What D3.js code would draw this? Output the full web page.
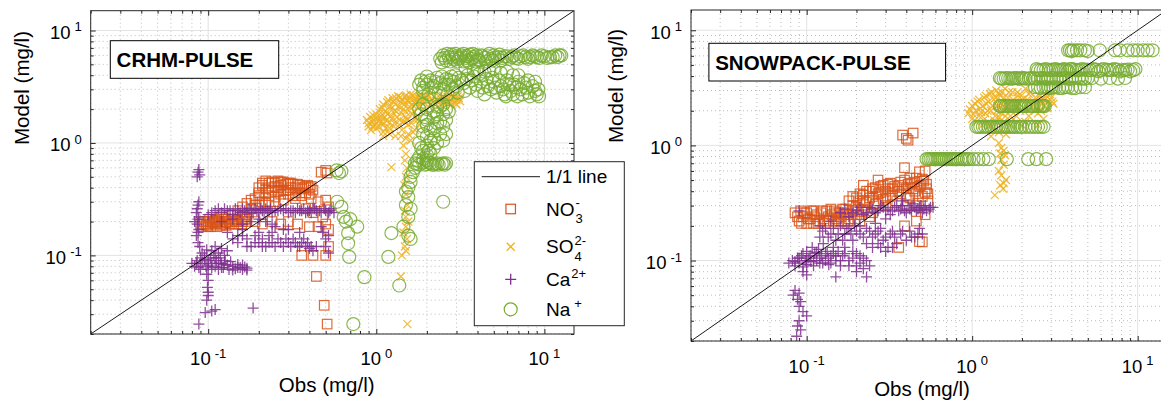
<!DOCTYPE html>
<html lang="en">
<head>
<meta charset="utf-8">
<title>Obs vs Model - CRHM-PULSE / SNOWPACK-PULSE</title>
<script src="https://cdn.jsdelivr.net/npm/d3@7"></script>
<style>
    body { margin: 0; background: #fff; }
    svg text { font-family: "Liberation Sans", Arial, sans-serif; fill: #000; }
</style>
</head>
<body>
<svg id="chart" width="1161" height="408"></svg>
<script>

    // axis limits and labels
    var axisLimits = [0.02, 15];
    var majorTicks = [0.1, 1, 10];
    var majorExps = ["-1", "0", "1"];
    var panelTitles = ["CRHM-PULSE", "SNOWPACK-PULSE"];
    var xLabel = "Obs (mg/l)";
    var yLabel = "Model (mg/l)";

    // legend names: base, superscript, subscript
    var speciesNames = ["NO", "SO", "Ca", "Na"];
    var speciesSup = ["-", "2-", "2+", "+"];
    var speciesSub = ["3", "4", "", ""];
    var speciesColors = ["#D95319", "#EDB120", "#7E2F8E", "#77AC30"];
    var speciesMarkers = ["square", "x", "plus", "circle"];

    // [obs, model] pairs
    var crhmNO3 = [[0.09,0.19],[0.092,0.18],[0.095,0.2],[0.098,0.185],[0.1,0.19],[0.1,0.2],[0.103,0.18],[0.106,0.195],
        [0.11,0.19],[0.11,0.205],[0.113,0.18],[0.117,0.2],[0.12,0.19],[0.125,0.21],[0.128,0.185],[0.13,0.2],[0.135,0.19],
        [0.14,0.21],[0.145,0.2],[0.15,0.19],[0.155,0.22],[0.16,0.2],[0.165,0.21],[0.17,0.23],[0.12,0.22],[0.14,0.23],
        [0.17,0.21],[0.19,0.2],[0.21,0.19],[0.24,0.2],[0.27,0.19],[0.3,0.2],[0.15,0.25],[0.16,0.27],[0.17,0.29],
        [0.18,0.31],[0.19,0.28],[0.2,0.34],[0.2,0.4],[0.21,0.44],[0.22,0.36],[0.22,0.46],[0.23,0.4],[0.24,0.45],
        [0.25,0.41],[0.26,0.37],[0.26,0.46],[0.27,0.42],[0.28,0.45],[0.29,0.38],[0.3,0.44],[0.31,0.4],[0.32,0.43],
        [0.33,0.36],[0.35,0.42],[0.36,0.39],[0.38,0.41],[0.4,0.4],[0.42,0.38],[0.41,0.32],[0.23,0.3],[0.25,0.33],
        [0.28,0.31],[0.3,0.35],[0.33,0.32],[0.36,0.34],[0.47,0.55],[0.5,0.57],[0.51,0.54],[0.38,0.26],[0.42,0.24],
        [0.45,0.3],[0.5,0.31],[0.52,0.27],[0.48,0.22],[0.5,0.19],[0.52,0.17],[0.45,0.18],[0.4,0.18],[0.34,0.19],
        [0.36,0.1],[0.42,0.1],[0.5,0.1],[0.52,0.12],[0.44,0.065],[0.49,0.036],[0.51,0.0245],
        [0.093,0.2],[0.097,0.19],[0.1,0.18],[0.102,0.21],[0.107,0.2],[0.112,0.195],[0.115,0.21],[0.118,0.185],
        [0.122,0.2],[0.127,0.195],[0.132,0.21],[0.138,0.2],[0.142,0.19],[0.148,0.21],[0.152,0.2],[0.158,0.19],
        [0.162,0.22],[0.168,0.2],[0.19,0.32],[0.2,0.36],[0.21,0.3],[0.21,0.42],[0.22,0.39],[0.23,0.34],[0.23,0.44],
        [0.24,0.38],[0.25,0.44],[0.25,0.3],[0.26,0.4],[0.27,0.35],[0.27,0.45],[0.28,0.38],[0.29,0.43],[0.3,0.38],
        [0.31,0.44],[0.32,0.34],[0.33,0.4],[0.34,0.43],[0.35,0.36],[0.37,0.4],[0.38,0.36],[0.39,0.42],[0.4,0.35],
        [0.41,0.41],[0.2,0.28],[0.22,0.29],[0.18,0.26]];

    var crhmSO4 = [[0.9,1.5],[0.92,1.7],[0.95,1.4],[0.97,1.6],[1.0,1.8],[1.0,1.35],[1.03,1.55],[1.05,2.0],[1.07,1.7],
        [1.1,1.45],[1.1,2.2],[1.13,1.9],[1.15,1.6],[1.18,2.4],[1.2,1.35],[1.2,2.1],[1.23,1.75],[1.25,2.5],[1.28,1.5],
        [1.3,2.2],[1.32,1.9],[1.35,2.6],[1.38,1.6],[1.4,2.3],[1.42,1.3],[1.45,2.0],[1.48,2.6],[1.5,1.7],[1.52,2.4],
        [1.55,1.45],[1.58,2.1],[1.6,2.7],[1.63,1.8],[1.65,1.25],[1.7,2.5],[1.72,2.2],[1.75,1.6],[1.8,2.6],[1.85,2.3],
        [1.9,2.0],[1.95,2.6],[2.0,2.4],[2.1,2.2],[2.2,2.6],[2.3,2.4],[2.4,2.2],[2.5,2.6],[2.6,2.3],[2.7,2.5],[2.8,2.2],
        [2.9,2.6],[3.0,2.4],[3.1,2.5],[3.0,2.2],[1.3,1.15],[1.5,1.1],[1.1,1.25],[0.93,1.3],[1.6,1.05],[1.45,0.95],
        [1.5,0.8],[1.48,0.7],[1.52,0.6],[1.5,0.5],[1.47,0.42],[1.5,0.35],[1.53,0.28],[1.48,0.25],[1.5,0.22],[1.55,0.2],
        [1.5,0.18],[1.45,0.16],[1.52,0.14],[1.48,0.12],[1.5,0.11],[1.42,0.1],[1.23,0.61],[1.4,0.065],[1.53,0.0245],
        [0.88,1.6],[0.9,1.4],[0.94,1.55],[0.96,1.75],[0.98,1.45],[1.02,1.65],[1.04,1.4],[1.06,1.85],[1.08,1.55],
        [1.09,2.05],[1.12,1.7],[1.14,1.35],[1.16,2.3],[1.17,1.8],[1.19,1.5],[1.21,2.0],[1.24,1.65],[1.26,2.35],
        [1.27,1.4],[1.29,1.95],[1.31,2.5],[1.33,1.7],[1.36,2.1],[1.37,1.45],[1.39,2.55],[1.41,1.85],[1.43,2.4],
        [1.46,1.55],[1.47,2.2],[1.49,1.9],[1.51,2.65],[1.53,1.6],[1.56,2.3],[1.57,1.95],[1.59,2.5],[1.62,1.5],
        [1.64,2.2],[1.66,2.65],[1.68,1.9],[1.71,2.35],[1.73,1.7],[1.76,2.55],[1.78,2.1],[1.82,2.45],[1.87,2.6],
        [1.92,2.3],[1.97,2.5],[2.05,2.6],[2.15,2.4],[2.25,2.2],[2.35,2.6],[2.45,2.4],[2.55,2.2],[2.65,2.55],
        [2.75,2.35],[2.85,2.45],[2.95,2.25],[3.05,2.6],[3.15,2.35],[1.1,1.15],[1.2,1.2],[1.4,1.15],[1.55,1.2],
        [1.7,1.3],[1.8,1.45]];

    var crhmCa = [[0.088,0.58],[0.087,0.55],[0.089,0.52],[0.086,0.5],[0.088,0.3],[0.087,0.28],[0.086,0.26],[0.085,0.24],
        [0.088,0.22],[0.087,0.21],[0.083,0.2],[0.086,0.19],[0.088,0.17],[0.087,0.16],[0.085,0.15],[0.087,0.13],[0.089,0.12],
        [0.08,0.085],[0.083,0.08],[0.086,0.09],[0.088,0.078],[0.09,0.095],[0.092,0.085],[0.095,0.1],[0.097,0.08],[0.1,0.09],
        [0.1,0.075],[0.103,0.095],[0.105,0.085],[0.108,0.1],[0.11,0.08],[0.112,0.09],[0.115,0.075],[0.118,0.095],[0.12,0.085],
        [0.123,0.078],[0.126,0.09],[0.13,0.082],[0.133,0.075],[0.136,0.088],[0.14,0.08],[0.145,0.076],[0.15,0.083],
        [0.155,0.078],[0.16,0.075],[0.165,0.079],[0.17,0.074],[0.105,0.11],[0.11,0.12],[0.115,0.105],[0.12,0.115],
        [0.125,0.1],[0.13,0.11],[0.098,0.068],[0.1,0.06],[0.099,0.052],[0.1,0.047],[0.1,0.044],[0.098,0.04],[0.105,0.032],
        [0.096,0.031],[0.11,0.033],[0.088,0.0245],[0.185,0.034],[0.1,0.23],[0.11,0.25],[0.12,0.24],[0.125,0.26],[0.13,0.25],
        [0.14,0.23],[0.15,0.25],[0.16,0.26],[0.17,0.24],[0.18,0.25],[0.19,0.26],[0.2,0.24],[0.21,0.25],[0.22,0.26],
        [0.23,0.25],[0.24,0.24],[0.25,0.25],[0.27,0.26],[0.28,0.25],[0.3,0.24],[0.32,0.25],[0.34,0.26],[0.36,0.25],
        [0.38,0.24],[0.4,0.25],[0.42,0.26],[0.44,0.25],[0.47,0.24],[0.5,0.25],[0.53,0.25],[0.56,0.24],[0.12,0.2],
        [0.14,0.21],[0.16,0.19],[0.18,0.2],[0.2,0.21],[0.22,0.2],[0.24,0.19],[0.13,0.16],[0.14,0.14],[0.15,0.13],
        [0.16,0.15],[0.17,0.14],[0.18,0.12],[0.19,0.15],[0.2,0.13],[0.21,0.14],[0.22,0.12],[0.23,0.15],[0.24,0.13],
        [0.26,0.14],[0.28,0.12],[0.3,0.13],[0.32,0.14],[0.34,0.12],[0.36,0.13],[0.38,0.12],[0.4,0.115],[0.42,0.11],
        [0.44,0.12],[0.3,0.17],[0.25,0.18],[0.35,0.16],[0.48,0.16],[0.5,0.14],[0.52,0.15],[0.5,0.12],[0.52,0.105],[0.47,0.18],
        [0.105,0.24],[0.115,0.26],[0.135,0.25],[0.145,0.26],[0.155,0.24],[0.165,0.25],[0.175,0.26],[0.185,0.24],
        [0.195,0.25],[0.205,0.26],[0.215,0.24],[0.225,0.25],[0.235,0.26],[0.26,0.25],[0.29,0.26],[0.31,0.25],
        [0.33,0.24],[0.35,0.25],[0.37,0.26],[0.39,0.25],[0.41,0.24],[0.43,0.26],[0.46,0.25],[0.49,0.26],[0.52,0.24],
        [0.54,0.26],[0.15,0.15],[0.17,0.12],[0.19,0.13],[0.21,0.12],[0.23,0.13],[0.25,0.12],[0.27,0.13],[0.29,0.14],
        [0.31,0.12],[0.33,0.13],[0.35,0.12],[0.37,0.14],[0.39,0.13],[0.41,0.12],[0.16,0.17],[0.2,0.16],[0.24,0.16],
        [0.28,0.17],[0.085,0.085],[0.09,0.075],[0.095,0.092],[0.1,0.082],[0.105,0.078],[0.11,0.095],[0.115,0.085],
        [0.12,0.078],[0.125,0.083],[0.14,0.074],[0.15,0.078],[0.16,0.082],[0.17,0.077],[0.092,0.105],[0.098,0.112]];

    var crhmNa = [[2.4,5.6],[2.5,6.0],[2.6,5.4],[2.7,5.8],[2.8,6.1],[2.9,5.5],[3.0,5.9],[3.1,5.6],[3.2,6.0],[3.4,5.7],
        [3.5,5.4],[3.6,6.1],[3.8,5.8],[4.0,5.5],[4.2,6.0],[4.4,5.7],[4.6,5.9],[4.8,5.6],[5.0,6.0],[5.3,5.8],[5.6,5.7],
        [6.0,5.9],[6.4,5.8],[6.8,5.7],[7.2,5.9],[7.7,5.8],[8.2,5.8],[8.7,5.9],[9.3,5.7],[10,5.9],[10.8,5.8],[11.6,6.0],
        [12.3,6.0],[1.8,3.3],[1.9,3.1],[1.95,3.5],[2.0,3.3],[2.1,3.6],[2.2,3.2],[2.3,3.8],[2.4,3.4],[2.5,3.0],[2.6,3.7],
        [2.7,3.3],[2.8,3.9],[2.9,3.5],[3.0,3.2],[3.1,3.8],[3.3,3.4],[3.5,4.0],[3.7,3.6],[3.9,3.3],[4.1,4.1],[4.3,3.1],
        [4.5,3.7],[4.8,3.0],[5.0,3.5],[5.2,2.8],[5.5,3.2],[5.8,2.7],[6.0,3.6],[6.3,2.9],[6.6,3.3],[6.9,2.6],[7.2,3.0],
        [7.6,3.4],[8.0,2.8],[8.5,3.2],[9.0,2.7],[9.2,3.0],[4.0,4.5],[4.7,4.4],[5.5,4.2],[6.5,4.0],[3.4,4.6],[1.9,2.2],
        [2.0,2.0],[2.2,1.9],[2.4,2.1],[2.6,2.0],[1.85,1.8],[2.0,1.6],[2.2,1.7],[2.5,1.8],[2.6,1.6],[1.9,1.4],[2.1,1.3],
        [2.3,1.5],[2.5,1.4],[2.0,1.15],[2.2,1.1],[2.4,1.2],[1.8,1.0],[2.0,0.95],[2.2,0.9],[1.9,0.85],[2.1,0.8],[1.8,0.75],
        [2.0,0.7],[1.7,0.66],[1.8,0.64],[1.9,0.67],[2.0,0.65],[2.1,0.66],[2.2,0.64],[2.3,0.66],[2.45,0.65],[2.6,0.66],
        [1.7,0.6],[1.65,0.55],[1.6,0.5],[1.6,0.45],[1.55,0.4],[1.5,0.37],[1.55,0.33],[1.5,0.28],[1.6,0.26],[1.55,0.22],
        [1.45,0.18],[1.55,0.15],[1.6,0.14],[1.23,0.158],[1.18,0.097],[1.37,0.054],[2.5,0.3],[0.58,0.57],[0.6,0.54],
        [0.62,0.56],[0.585,0.3],[0.62,0.27],[0.64,0.22],[0.7,0.21],[0.77,0.18],[0.66,0.2],[0.68,0.158],[0.68,0.128],
        [0.69,0.097],[0.85,0.064],[0.73,0.0245],
        [2.45,5.2],[2.55,5.7],[2.65,6.2],[2.75,5.3],[2.85,5.75],[2.95,6.2],[3.05,5.3],[3.15,5.75],[3.3,5.3],[3.3,6.2],
        [3.45,5.95],[3.55,5.2],[3.7,5.6],[3.75,6.2],[3.9,5.3],[3.95,6.0],[4.1,5.4],[4.3,5.9],[4.5,5.3],[4.7,6.2],
        [4.9,5.4],[5.1,5.7],[5.4,6.1],[5.5,5.4],[5.8,5.9],[6.2,5.6],[6.6,6.0],[7.0,5.6],[7.5,6.0],[8.0,5.6],[8.5,6.0],
        [9.0,5.8],[9.6,6.0],[10.4,5.7],[11.2,5.8],[12.0,5.8],[12.6,6.0],[1.85,3.6],[1.9,2.9],[2.0,3.9],[2.05,2.7],
        [2.15,3.1],[2.25,3.5],[2.35,2.8],[2.45,3.9],[2.55,3.3],[2.65,2.7],[2.75,3.6],[2.85,3.0],[2.95,4.0],[3.05,2.8],
        [3.2,3.6],[3.35,2.9],[3.45,3.7],[3.6,3.1],[3.8,3.9],[4.0,2.9],[4.2,3.5],[4.4,2.7],[4.6,3.2],[4.9,3.8],[5.1,3.1],
        [5.4,3.6],[5.7,3.0],[5.9,2.6],[6.2,3.3],[6.5,2.7],[6.8,3.1],[7.0,3.5],[7.4,2.7],[7.8,3.1],[8.2,2.6],[8.8,2.9],
        [9.3,2.6],[3.8,4.4],[4.4,4.3],[5.0,4.6],[6.0,4.3],[7.0,4.0],[8.0,3.6],[8.8,3.5],[1.8,2.0],[2.3,2.1],[2.5,2.2],
        [1.95,1.7],[2.3,1.8],[2.4,1.55],[2.0,1.45],[2.2,1.35],[1.9,1.2],[2.1,1.05],[2.3,1.0],[2.5,1.05],[1.85,0.9],
        [2.05,0.85],[2.0,0.78],[1.75,0.7],[1.9,0.72],[2.6,1.2],[2.7,1.9],[1.75,0.65],[1.95,0.64],[2.05,0.67],
        [2.15,0.64],[2.25,0.65],[2.35,0.64],[2.5,0.66],[2.55,0.64]];

    var snowNO3 = [[0.085,0.26],[0.09,0.22],[0.092,0.27],[0.095,0.24],[0.1,0.21],[0.1,0.26],[0.105,0.23],[0.11,0.27],
        [0.11,0.21],[0.115,0.25],[0.12,0.22],[0.125,0.27],[0.13,0.21],[0.135,0.24],[0.14,0.28],[0.145,0.22],[0.15,0.26],
        [0.155,0.21],[0.16,0.24],[0.165,0.28],[0.17,0.22],[0.175,0.26],[0.18,0.23],[0.19,0.27],[0.2,0.25],[0.21,0.22],
        [0.22,0.28],[0.24,0.24],[0.18,0.33],[0.19,0.36],[0.2,0.3],[0.21,0.38],[0.22,0.33],[0.23,0.4],[0.24,0.35],
        [0.25,0.42],[0.26,0.31],[0.27,0.38],[0.28,0.44],[0.29,0.34],[0.3,0.4],[0.31,0.46],[0.32,0.36],[0.33,0.42],
        [0.35,0.33],[0.36,0.45],[0.37,0.38],[0.39,0.5],[0.4,0.42],[0.42,0.35],[0.43,0.47],[0.45,0.4],[0.46,0.52],
        [0.48,0.44],[0.5,0.36],[0.51,0.49],[0.53,0.42],[0.54,0.33],[0.22,0.45],[0.27,0.5],[0.3,0.3],[0.4,0.3],[0.46,0.3],
        [0.38,1.23],[0.41,1.11],[0.44,1.28],[0.4,1.15],[0.39,0.64],[0.48,0.59],[0.52,0.6],[0.46,0.22],[0.48,0.146],
        [0.36,0.13],[0.39,0.2],[0.5,0.145],[0.52,0.25],
        [0.088,0.24],[0.093,0.21],[0.097,0.26],[0.102,0.23],[0.107,0.27],[0.112,0.24],[0.117,0.21],[0.122,0.26],
        [0.127,0.23],[0.132,0.27],[0.137,0.22],[0.142,0.25],[0.147,0.27],[0.152,0.23],[0.157,0.26],[0.162,0.22],
        [0.168,0.25],[0.172,0.28],[0.178,0.22],[0.185,0.25],[0.195,0.23],[0.205,0.28],[0.215,0.25],[0.23,0.27],
        [0.25,0.26],[0.19,0.3],[0.2,0.35],[0.21,0.33],[0.22,0.37],[0.23,0.32],[0.24,0.4],[0.25,0.36],[0.26,0.43],
        [0.27,0.33],[0.28,0.39],[0.29,0.45],[0.3,0.35],[0.31,0.42],[0.32,0.47],[0.33,0.37],[0.34,0.44],[0.36,0.4],
        [0.37,0.48],[0.38,0.43],[0.4,0.37],[0.41,0.46],[0.42,0.52],[0.44,0.42],[0.45,0.48],[0.47,0.38],[0.49,0.45],
        [0.5,0.51],[0.52,0.39],[0.53,0.46],[0.54,0.38]];

    var snowSO4 = [[0.95,1.9],[1.0,2.2],[1.0,1.7],[1.05,2.0],[1.08,2.4],[1.1,1.8],[1.12,2.1],[1.15,1.5],[1.18,2.6],
        [1.2,1.9],[1.22,2.3],[1.25,1.6],[1.28,2.8],[1.3,2.0],[1.32,1.4],[1.35,2.5],[1.38,1.8],[1.4,3.0],[1.42,2.2],
        [1.45,1.3],[1.48,2.7],[1.5,1.9],[1.52,2.4],[1.55,1.6],[1.58,3.1],[1.6,2.1],[1.65,2.6],[1.7,1.5],[1.75,2.9],
        [1.8,2.3],[1.85,1.8],[1.9,2.7],[1.95,2.0],[2.0,2.5],[2.1,1.6],[2.2,2.8],[2.3,2.2],[2.4,2.6],[2.5,1.9],[2.6,2.5],
        [2.7,2.2],[2.8,2.7],[2.9,2.4],[3.0,2.6],[3.1,2.3],[2.1,3.1],[2.4,2.0],[1.3,1.2],[1.6,1.25],[2.0,1.5],[2.5,1.5],
        [2.7,1.7],[1.45,1.05],[1.5,0.95],[1.55,0.9],[1.48,0.85],[1.58,0.82],[1.5,0.75],[1.55,0.68],[1.45,0.6],[1.5,0.55],
        [1.6,0.5],[1.55,0.47],[1.48,0.45],[1.54,0.42],[1.37,0.37],
        [0.97,2.05],[1.02,1.85],[1.04,2.3],[1.06,1.6],[1.1,2.5],[1.13,1.95],[1.16,2.2],[1.19,1.7],[1.21,2.7],
        [1.24,2.0],[1.26,2.4],[1.29,1.5],[1.31,2.9],[1.33,2.2],[1.36,1.65],[1.39,2.6],[1.41,2.0],[1.44,2.85],
        [1.46,1.75],[1.49,2.3],[1.51,2.9],[1.54,2.05],[1.56,2.6],[1.59,1.8],[1.62,2.35],[1.67,2.9],[1.72,2.0],
        [1.77,2.5],[1.83,2.1],[1.88,2.9],[1.93,2.3],[1.98,2.7],[2.05,2.1],[2.15,2.5],[2.25,2.9],[2.35,2.4],[2.45,2.1],
        [2.55,2.7],[2.65,2.3],[2.75,2.5],[2.85,2.1],[2.95,2.8],[3.05,2.4],[1.4,1.6],[1.7,1.8],[2.2,1.8],[2.6,2.0]];

    var snowCa = [[0.09,0.27],[0.085,0.055],[0.09,0.052],[0.083,0.05],[0.088,0.046],[0.092,0.044],[0.09,0.04],[0.095,0.036],
        [0.1,0.033],[0.09,0.03],[0.088,0.027],[0.092,0.025],[0.087,0.022],[0.078,0.095],[0.082,0.1],[0.085,0.09],
        [0.088,0.105],[0.09,0.095],[0.093,0.11],[0.095,0.088],[0.098,0.1],[0.1,0.12],[0.1,0.092],[0.103,0.105],
        [0.106,0.098],[0.108,0.13],[0.11,0.09],[0.112,0.115],[0.115,0.1],[0.118,0.125],[0.12,0.095],[0.123,0.11],
        [0.126,0.14],[0.13,0.1],[0.133,0.12],[0.136,0.092],[0.14,0.11],[0.145,0.13],[0.15,0.1],[0.155,0.12],[0.16,0.09],
        [0.165,0.11],[0.17,0.13],[0.18,0.1],[0.19,0.12],[0.2,0.09],[0.21,0.11],[0.22,0.085],[0.23,0.1],[0.24,0.09],
        [0.095,0.08],[0.1,0.075],[0.15,0.072],[0.2,0.08],[0.23,0.072],[0.12,0.16],[0.13,0.19],[0.14,0.17],[0.15,0.15],
        [0.16,0.2],[0.17,0.17],[0.18,0.19],[0.19,0.15],[0.2,0.18],[0.21,0.2],[0.22,0.16],[0.23,0.14],[0.24,0.18],
        [0.25,0.13],[0.26,0.17],[0.27,0.14],[0.28,0.19],[0.3,0.16],[0.31,0.13],[0.33,0.18],[0.35,0.14],[0.37,0.17],
        [0.4,0.15],[0.42,0.18],[0.45,0.16],[0.48,0.19],[0.5,0.17],[0.28,0.13],[0.3,0.12],[0.33,0.13],[0.16,0.26],
        [0.18,0.24],[0.2,0.27],[0.22,0.25],[0.24,0.29],[0.26,0.26],[0.28,0.3],[0.3,0.27],[0.32,0.25],[0.34,0.29],
        [0.36,0.27],[0.38,0.3],[0.4,0.26],[0.42,0.28],[0.44,0.31],[0.46,0.27],[0.48,0.29],[0.5,0.26],[0.52,0.3],
        [0.55,0.28],[0.58,0.29],[0.38,0.33],[0.3,0.23],[0.26,0.21],[0.14,0.22],[0.12,0.2],
        [0.085,0.098],[0.09,0.105],[0.095,0.115],[0.1,0.1],[0.105,0.11],[0.11,0.1],[0.115,0.118],[0.12,0.105],
        [0.125,0.095],[0.13,0.115],[0.135,0.105],[0.14,0.095],[0.145,0.115],[0.15,0.11],[0.16,0.1],[0.17,0.115],
        [0.18,0.09],[0.19,0.105],[0.2,0.115],[0.21,0.095],[0.22,0.105],[0.125,0.18],[0.135,0.16],[0.145,0.19],
        [0.155,0.17],[0.165,0.15],[0.175,0.19],[0.185,0.17],[0.195,0.2],[0.21,0.17],[0.23,0.19],[0.25,0.16],
        [0.27,0.18],[0.29,0.15],[0.32,0.17],[0.34,0.16],[0.38,0.18],[0.43,0.16],[0.47,0.17],[0.17,0.28],[0.19,0.26],
        [0.21,0.29],[0.23,0.26],[0.25,0.28],[0.27,0.27],[0.29,0.29],[0.31,0.28],[0.33,0.27],[0.35,0.3],[0.37,0.28],
        [0.39,0.27],[0.41,0.3],[0.43,0.27],[0.45,0.29],[0.47,0.28],[0.49,0.3],[0.51,0.28],[0.53,0.27],[0.56,0.29]];

    var snowNa = [[3.8,6.7],[3.9,6.7],[4.0,6.6],[4.1,6.7],[4.3,6.7],[4.5,6.7],[4.8,6.7],[5.0,6.6],[5.9,6.7],[7.3,6.7],
        [7.8,6.7],[8.7,6.7],[9.4,6.7],[10,6.7],[10.8,6.7],[11.5,6.7],[12.3,6.7],[2.45,4.6],[2.6,4.5],[2.8,4.6],[3.0,4.5],
        [3.2,4.6],[3.4,4.5],[3.6,4.6],[3.8,4.4],[4.0,4.6],[4.3,4.5],[4.6,4.6],[5.0,4.5],[5.4,4.6],[5.8,4.4],[6.2,4.6],
        [6.7,4.5],[7.2,4.6],[7.8,4.4],[8.4,4.5],[9.0,4.4],[9.7,4.6],[1.47,3.85],[1.55,3.8],[1.65,3.85],[1.75,3.8],
        [1.85,3.85],[1.95,3.8],[2.05,3.85],[2.2,3.8],[2.35,3.85],[2.5,3.8],[2.7,3.85],[2.9,3.8],[3.1,3.85],[3.4,3.8],
        [3.7,3.85],[4.0,3.8],[4.4,3.85],[4.8,3.8],[5.3,3.85],[6.0,3.8],[6.8,3.85],[7.6,3.8],[8.4,3.85],[2.4,3.2],
        [2.6,3.15],[2.8,3.2],[3.0,3.15],[3.2,3.2],[3.5,3.15],[3.8,3.2],[4.2,3.15],[4.8,3.2],[1.47,2.2],[1.55,2.2],
        [1.65,2.2],[1.75,2.2],[1.85,2.2],[1.95,2.2],[2.05,2.2],[2.2,2.2],[2.35,2.2],[2.5,2.2],[2.65,2.2],[2.75,2.2],
        [1.06,1.45],[1.12,1.45],[1.2,1.45],[1.3,1.45],[1.4,1.45],[1.5,1.45],[1.6,1.45],[1.7,1.45],[1.8,1.45],[1.95,1.45],
        [2.1,1.45],[2.3,1.45],[2.5,1.45],[2.7,1.45],[0.53,0.76],[0.56,0.76],[0.59,0.76],[0.62,0.76],[0.65,0.76],
        [0.68,0.76],[0.72,0.76],[0.76,0.76],[0.8,0.76],[0.85,0.76],[0.9,0.76],[0.96,0.76],[1.02,0.76],[1.09,0.76],
        [1.17,0.76],[1.26,0.76],[1.62,0.76],[2.18,0.76],[2.45,0.76],[2.8,0.76],
        [2.5,4.5],[2.7,4.55],[2.9,4.5],[3.1,4.55],[3.3,4.5],[3.5,4.55],[3.7,4.5],[3.9,4.6],[4.15,4.55],[4.45,4.5],
        [4.8,4.55],[5.2,4.5],[5.6,4.55],[6.0,4.5],[6.5,4.55],[7.0,4.5],[7.5,4.55],[8.1,4.5],[8.7,4.55],[9.4,4.5],
        [1.5,3.8],[1.6,3.85],[1.7,3.8],[1.8,3.85],[1.9,3.8],[2.0,3.85],[2.1,3.8],[2.25,3.85],[2.4,3.8],[2.6,3.85],
        [2.8,3.8],[3.0,3.85],[3.25,3.8],[3.55,3.85],[3.85,3.8],[4.2,3.85],[4.6,3.8],[5.0,3.85],[2.5,3.2],[2.7,3.2],
        [2.9,3.15],[3.1,3.2],[3.35,3.15],[3.65,3.2],[4.0,3.15],[4.5,3.2],[1.5,2.2],[1.6,2.2],[1.7,2.2],[1.8,2.2],
        [1.9,2.2],[2.0,2.2],[2.1,2.2],[2.3,2.2],[2.45,2.2],[2.6,2.2],[2.7,2.2],[1.09,1.45],[1.16,1.45],[1.25,1.45],
        [1.35,1.45],[1.45,1.45],[1.55,1.45],[1.65,1.45],[1.75,1.45],[1.87,1.45],[2.0,1.45],[2.2,1.45],[2.4,1.45],
        [2.6,1.45],[0.545,0.76],[0.575,0.76],[0.605,0.76],[0.635,0.76],[0.665,0.76],[0.7,0.76],[0.74,0.76],
        [0.78,0.76],[0.82,0.76],[0.875,0.76],[0.93,0.76]];

    // panel layout (pixels)
    var panels = [
        {title: panelTitles[0], left: 90.7, top: 10.7, width: 483.3, height: 323.3,
         box: [19.6, 30, 168.4, 37.6], xlab: [236, 392], ylab: [29, 88],
         series: [crhmNO3, crhmSO4, crhmCa, crhmNa]},
        {title: panelTitles[1], left: 691, top: 10, width: 475.8, height: 331,
         box: [17.9, 33.3, 236.7, 37.7], xlab: [231, 396], ylab: [623, 86],
         series: [snowNO3, snowSO4, snowCa, snowNa]}
    ];

    var svg = d3.select("#chart");
    var axisColor = "#262626";

    function markerPath(type) {
        if (type == "x") return "M-4,-4L4,4M-4,4L4,-4";
        if (type == "plus") return "M-5.5,0H5.5M0,-5.5V5.5";
        return null;
    }

    function addMarker(sel, type, color) {
        if (type == "square") {
            sel.append("rect").attr("x", -4.75).attr("y", -4.75).attr("width", 9.5).attr("height", 9.5)
                .attr("fill", "none").attr("stroke", color).attr("stroke-width", 1.2);
        } else if (type == "circle") {
            sel.append("circle").attr("r", 6.5)
                .attr("fill", "none").attr("stroke", color).attr("stroke-width", 1.2);
        } else {
            sel.append("path").attr("d", markerPath(type))
                .attr("fill", "none").attr("stroke", color).attr("stroke-width", 1.3);
        }
    }

    function powLabel(sel, exp) {
        sel.append("tspan").text("10");
        sel.append("tspan").attr("dx", 4).attr("dy", -7.5).attr("font-size", 13).text(exp);
    }

    panels.forEach(function (p, pi) {

        var x = d3.scaleLog().domain(axisLimits).range([0, p.width]);
        var y = d3.scaleLog().domain(axisLimits).range([p.height, 0]);

        var g = svg.append("g").attr("transform", "translate(" + p.left + "," + p.top + ")");

        g.append("clipPath").attr("id", "clip" + pi)
            .append("rect").attr("width", p.width).attr("height", p.height);

        var allTicks = x.ticks();
        var minorTicks = allTicks.filter(function (t) { return majorTicks.indexOf(t) < 0; });

        // grid
        var grid = g.append("g");
        grid.selectAll(".vminor").data(minorTicks).enter().append("line")
            .attr("x1", function (d) { return x(d); }).attr("x2", function (d) { return x(d); })
            .attr("y1", 0).attr("y2", p.height)
            .attr("stroke", "#bdbdbd").attr("stroke-dasharray", "1,3");
        grid.selectAll(".hminor").data(minorTicks).enter().append("line")
            .attr("y1", function (d) { return y(d); }).attr("y2", function (d) { return y(d); })
            .attr("x1", 0).attr("x2", p.width)
            .attr("stroke", "#bdbdbd").attr("stroke-dasharray", "1,3");
        grid.selectAll(".vmajor").data(majorTicks).enter().append("line")
            .attr("x1", function (d) { return x(d); }).attr("x2", function (d) { return x(d); })
            .attr("y1", 0).attr("y2", p.height)
            .attr("stroke", "#e3e3e3");
        grid.selectAll(".hmajor").data(majorTicks).enter().append("line")
            .attr("y1", function (d) { return y(d); }).attr("y2", function (d) { return y(d); })
            .attr("x1", 0).attr("x2", p.width)
            .attr("stroke", "#e3e3e3");

        // points
        var plot = g.append("g").attr("clip-path", "url(#clip" + pi + ")");
        p.series.forEach(function (data, si) {
            plot.append("g").selectAll("g").data(data).enter().append("g")
                .attr("transform", function (d) { return "translate(" + x(d[0]) + "," + y(d[1]) + ")"; })
                .attr("stroke-opacity", 0.85)
                .each(function () { addMarker(d3.select(this), speciesMarkers[si], speciesColors[si]); });
        });

        // 1/1 line
        plot.append("line")
            .attr("x1", x(axisLimits[0])).attr("y1", y(axisLimits[0]))
            .attr("x2", x(axisLimits[1])).attr("y2", y(axisLimits[1]))
            .attr("stroke", "#000").attr("stroke-width", 0.9);

        // ticks on all four sides, pointing inward
        function tickAxis(axis, transform) {
            var a = g.append("g").attr("transform", transform).attr("color", axisColor).call(axis);
            a.select(".domain").remove();
        }
        tickAxis(d3.axisBottom(x).tickValues(majorTicks).tickSize(-5).tickFormat(""), "translate(0," + p.height + ")");
        tickAxis(d3.axisBottom(x).tickValues(minorTicks).tickSize(-3).tickFormat(""), "translate(0," + p.height + ")");
        tickAxis(d3.axisTop(x).tickValues(majorTicks).tickSize(-5).tickFormat(""), "translate(0,0)");
        tickAxis(d3.axisTop(x).tickValues(minorTicks).tickSize(-3).tickFormat(""), "translate(0,0)");
        tickAxis(d3.axisLeft(y).tickValues(majorTicks).tickSize(-5).tickFormat(""), "translate(0,0)");
        tickAxis(d3.axisLeft(y).tickValues(minorTicks).tickSize(-3).tickFormat(""), "translate(0,0)");
        tickAxis(d3.axisRight(y).tickValues(majorTicks).tickSize(-5).tickFormat(""), "translate(" + p.width + ",0)");
        tickAxis(d3.axisRight(y).tickValues(minorTicks).tickSize(-3).tickFormat(""), "translate(" + p.width + ",0)");

        g.append("rect").attr("width", p.width).attr("height", p.height)
            .attr("fill", "none").attr("stroke", axisColor).attr("stroke-width", 1);

        // tick labels
        majorTicks.forEach(function (t, i) {
            g.append("text").attr("x", x(t)).attr("y", p.height + 31.5)
                .attr("text-anchor", "middle").attr("font-size", 18.5)
                .call(powLabel, majorExps[i]);
            g.append("text").attr("x", -9).attr("y", y(t) + 8.5)
                .attr("text-anchor", "end").attr("font-size", 18.5)
                .call(powLabel, majorExps[i]);
        });

        // axis titles
        g.append("text").attr("x", p.xlab[0]).attr("y", p.xlab[1] - p.top)
            .attr("text-anchor", "middle").attr("font-size", 20.5).text(xLabel);
        g.append("text")
            .attr("transform", "translate(" + (p.ylab[0] - p.left) + "," + (p.ylab[1] - p.top) + ") rotate(-90)")
            .attr("text-anchor", "middle").attr("font-size", 20.5).text(yLabel);

        // title box
        g.append("rect").attr("x", p.box[0]).attr("y", p.box[1]).attr("width", p.box[2]).attr("height", p.box[3])
            .attr("fill", "#fff").attr("stroke", "#000").attr("stroke-width", 1);
        g.append("text").attr("x", p.box[0] + 6.3).attr("y", p.box[1] + 26.3)
            .attr("font-size", 20.5).attr("font-weight", "bold").text(p.title);
    });

    // legend (left panel)
    var legend = svg.append("g").attr("transform", "translate(474.3,161.7)");
    legend.append("rect").attr("width", 150).attr("height", 164)
        .attr("fill", "#fff").attr("stroke", axisColor).attr("stroke-width", 1);
    legend.append("line").attr("x1", 7.4).attr("x2", 65.7).attr("y1", 15).attr("y2", 15)
        .attr("stroke", "#000").attr("stroke-width", 0.9);
    legend.append("text").attr("x", 71.7).attr("y", 21.5).attr("font-size", 19).text("1/1 line");

    var rowY = [47.3, 85, 117.6, 147.6];
    speciesNames.forEach(function (name, i) {
        var m = legend.append("g").attr("transform", "translate(36.4," + rowY[i] + ")");
        addMarker(m, speciesMarkers[i], speciesColors[i]);
        var t = legend.append("text").attr("x", 71.7).attr("y", rowY[i] + 6.8)
            .attr("font-size", 19).text(name);
        var w = t.node().getComputedTextLength();
        var sx = 71.7 + w + (i == 3 ? 4 : 1);
        legend.append("text").attr("x", sx).attr("y", rowY[i] + 6.8 - 8.5)
            .attr("font-size", 13).text(speciesSup[i]);
        if (speciesSub[i] != "") {
            legend.append("text").attr("x", sx).attr("y", rowY[i] + 6.8 + 7.5)
                .attr("font-size", 13).text(speciesSub[i]);
        }
    });

</script>
</body>
</html>
